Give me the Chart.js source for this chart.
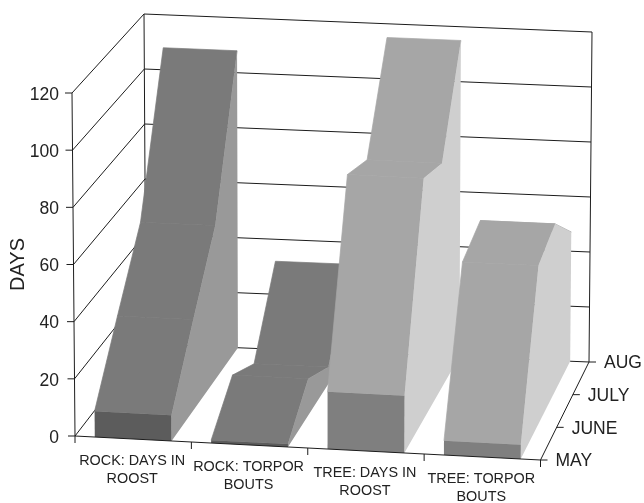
<!DOCTYPE html>
<html>
<head>
<meta charset="utf-8">
<title>Days in roost and torpor bouts</title>
<style>
    html, body { margin: 0; padding: 0; background: #fff; }
    canvas { display: block; }
</style>
<script src="https://cdn.jsdelivr.net/npm/chart.js@4/dist/chart.umd.min.js"></script>
</head>
<body>
<canvas id="chart" width="644" height="503"></canvas>
<script>
const months = ["MAY", "JUNE", "JULY", "AUG"];
const categories = [
    ["ROCK: DAYS IN", "ROOST"],
    ["ROCK: TORPOR", "BOUTS"],
    ["TREE: DAYS IN", "ROOST"],
    ["TREE: TORPOR", "BOUTS"]
];
const rockDays = [9, 32, 55, 108];
const rockTorpor = [1, 13, 6, 32];
const treeDays = [20, 86, 81, 115];
const treeTorpor = [5, 57, 61, 47];

const topShades = ["#7a7a7a", "#7a7a7a", "#a6a6a6", "#a6a6a6"];
const sideShades = ["#999999", "#999999", "#cfcfcf", "#cfcfcf"];
const frontShades = ["#5c5c5c", "#5c5c5c", "#7f7f7f", "#7f7f7f"];

const FONT = '"Liberation Sans", Arial, sans-serif';
const LINE = "#1c1c1c";
const RIBBON_HALF = 0.33;

// screen corners of the plot box: f/b = front/back, l/r = left/right, 0/1 = floor/top
const box = {
    fl0: [75, 436], fl1: [72, 93],
    fr0: [540.5, 460], fr1: [543.5, 117],
    bl0: [146, 344], bl1: [144, 14],
    br0: [589, 362], br1: [592, 32]
};

function mix(a, b, t) {
    return [a[0] + (b[0] - a[0]) * t, a[1] + (b[1] - a[1]) * t];
}

// u: across categories, v: value height, w: depth through the months
function project(u, v, w) {
    const floor = mix(mix(box.fl0, box.fr0, u), mix(box.bl0, box.br0, u), w);
    const roof = mix(mix(box.fl1, box.fr1, u), mix(box.bl1, box.br1, u), w);
    return mix(floor, roof, v);
}

function polygon(ctx, pts, color, seam) {
    ctx.beginPath();
    pts.forEach((p, i) => i ? ctx.lineTo(p[0], p[1]) : ctx.moveTo(p[0], p[1]));
    ctx.closePath();
    ctx.fillStyle = color;
    ctx.fill();
    // thin same-colour stroke closes the antialiasing gap between neighbouring quads
    if (seam) {
        ctx.save();
        ctx.strokeStyle = color;
        ctx.lineWidth = 0.7;
        ctx.stroke();
        ctx.restore();
    }
}

function segment(ctx, a, b) {
    ctx.beginPath();
    ctx.moveTo(a[0], a[1]);
    ctx.lineTo(b[0], b[1]);
    ctx.stroke();
}

const area3d = {
    id: "area3d",
    beforeDatasetsDraw(chart) {
        const ctx = chart.ctx;
        const { x, y, cat } = chart.scales;
        const catDecimal = v => cat.getDecimalForPixel(cat.getPixelForValue(v));
        const monthDecimal = i => x.getDecimalForPixel(x.getPixelForValue(i));
        const edgeCount = categories.length + 1;

        ctx.save();
        ctx.strokeStyle = LINE;
        ctx.lineWidth = 1;

        // walls
        y.ticks.forEach(t => {
            const v = y.getDecimalForPixel(y.getPixelForValue(t.value));
            segment(ctx, project(0, v, 0), project(0, v, 1));
            segment(ctx, project(0, v, 1), project(1, v, 1));
            const p = project(0, v, 0);
            segment(ctx, [p[0] - 7, p[1]], p);
        });
        segment(ctx, project(0, 0, 0), project(0, 1, 0));
        segment(ctx, project(0, 0, 1), project(0, 1, 1));
        segment(ctx, project(1, 0, 1), project(1, 1, 1));

        // ribbons, left to right and back to front
        chart.data.datasets.forEach((ds, i) => {
            const points = chart.getDatasetMeta(i).data;
            const u0 = catDecimal(i - RIBBON_HALF);
            const u1 = catDecimal(i + RIBBON_HALF);
            const w = points.map(p => x.getDecimalForPixel(p.x));
            const v = points.map(p => y.getDecimalForPixel(p.y));

            for (let j = points.length - 1; j > 0; j--) {
                polygon(ctx, [
                    project(u0, v[j], w[j]), project(u1, v[j], w[j]),
                    project(u1, v[j - 1], w[j - 1]), project(u0, v[j - 1], w[j - 1])
                ], topShades[i], true);
            }
            // right side is one outline: value profile, then back along the floor
            const side = w.map((d, j) => project(u1, v[j], d));
            side.push(project(u1, 0, w[w.length - 1]), project(u1, 0, w[0]));
            polygon(ctx, side, sideShades[i]);
            polygon(ctx, [
                project(u0, v[0], w[0]), project(u1, v[0], w[0]),
                project(u1, 0, w[0]), project(u0, 0, w[0])
            ], frontShades[i]);
        });

        // floor edges
        segment(ctx, project(0, 0, 0), project(1, 0, 0));
        segment(ctx, project(1, 0, 0), project(1, 0, 1));

        // category ticks and labels along the front edge
        ctx.fillStyle = "#222";
        ctx.textAlign = "center";
        ctx.textBaseline = "middle";
        ctx.font = "14.4px " + FONT;
        for (let i = 0; i < edgeCount; i++) {
            const p = project(catDecimal(i - 0.5), 0, 0);
            segment(ctx, p, [p[0], p[1] + 7]);
        }
        categories.forEach((lines, i) => {
            const p = project(catDecimal(i), 0, 0);
            lines.forEach((text, k) => ctx.fillText(text, p[0] - 1, p[1] + 22 + k * 18));
        });

        // month ticks and labels along the right edge
        ctx.textAlign = "left";
        ctx.font = "17.5px " + FONT;
        months.forEach((m, i) => {
            const p = project(1, 0, monthDecimal(i));
            segment(ctx, p, [p[0] + 7, p[1]]);
            ctx.fillText(m, p[0] + 15, p[1] + 1.5);
        });
        ctx.restore();
    }
};

const series = [rockDays, rockTorpor, treeDays, treeTorpor];

new Chart(document.getElementById("chart"), {
    type: "line",
    data: {
        labels: months,
        datasets: series.map((values, i) => ({
            label: categories[i].join(" "),
            data: values,
            showLine: false,
            pointRadius: 0,
            backgroundColor: topShades[i],
            borderColor: topShades[i]
        }))
    },
    options: {
        responsive: false,
        animation: false,
        layout: { padding: { top: 93, bottom: 67, left: 0, right: 104 } },
        plugins: { legend: { display: false }, tooltip: { enabled: false } },
        scales: {
            x: { display: false },
            cat: { type: "category", axis: "x", labels: categories.map(c => c.join(" ")), offset: true, display: false },
            y: {
                min: 0,
                max: 120,
                afterFit(scale) { scale.width = 74; },
                border: { display: false },
                grid: { display: false, drawTicks: false },
                ticks: {
                    stepSize: 20,
                    padding: 15,
                    labelOffset: 2,
                    color: "#222",
                    font: { family: FONT, size: 17.5 }
                },
                title: {
                    display: true,
                    text: "DAYS",
                    color: "#222",
                    padding: { top: 6, bottom: 0 },
                    font: { family: FONT, size: 20 }
                }
            }
        }
    },
    plugins: [area3d]
});
</script>
</body>
</html>
